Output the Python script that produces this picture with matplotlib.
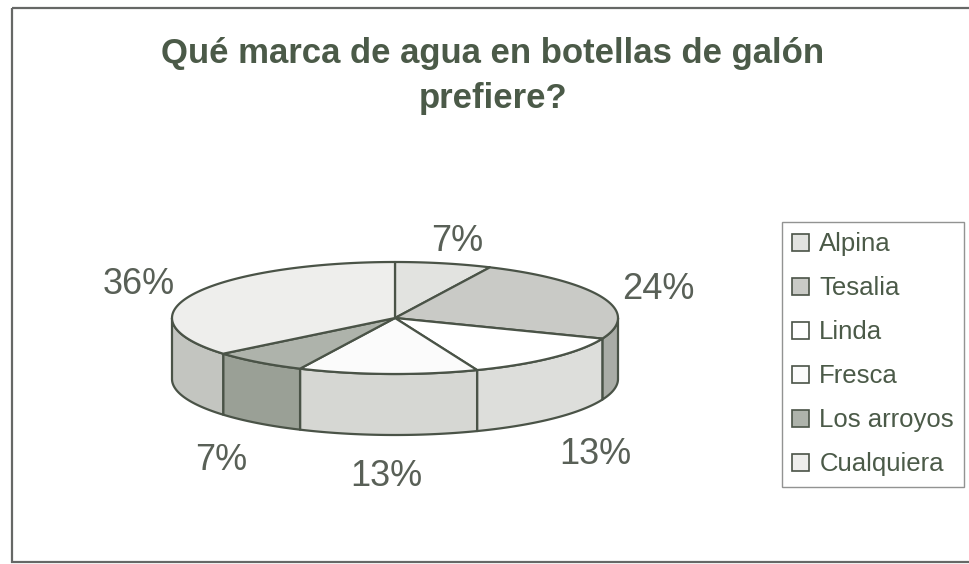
import numpy as np
import matplotlib
matplotlib.use("Agg")
import matplotlib.pyplot as plt
from matplotlib.patches import Polygon, Rectangle

# ---- data ----
title = "Qué marca de agua en botellas de galón\nprefiere?"
brands = ["Alpina", "Tesalia", "Linda", "Fresca", "Los arroyos", "Cualquiera"]
shares = [7, 24, 13, 13, 7, 36]
labels = ["7%", "24%", "13%", "13%", "7%", "36%"]
top_colors = ["#e2e3e0", "#c9cac6", "#ffffff", "#fbfbfb", "#aeb3ab", "#eeeeec"]
side_colors = ["#c8c9c5", "#a9aca6", "#dddedb", "#d6d7d3", "#9aa096", "#c3c5c0"]
edge = "#4a5347"
txt = "#4b5a48"

W, H = 969, 564
fig = plt.figure(figsize=(W / 100, H / 100), dpi=100)
fig.patch.set_facecolor("white")
ax = fig.add_axes([0, 0, 1, 1])
ax.set_xlim(0, W)
ax.set_ylim(H, 0)
ax.axis("off")

# outer frame
ax.add_patch(Rectangle((12, 8), W + 20, 554, fill=False, ec="#666866", lw=1.6))

# pie geometry (pixel space)
cx, cy, rx, ry, depth = 395, 318, 223, 56, 61

def pt(theta, dy=0.0):
    return cx + rx * np.cos(theta), cy - ry * np.sin(theta) + dy

fr = np.array(shares, float) / sum(shares)
cum = np.concatenate([[0], np.cumsum(fr)])
# clockwise from 12 o'clock
starts = np.pi / 2 - 2 * np.pi * cum[:-1]
ends = np.pi / 2 - 2 * np.pi * cum[1:]

# sides (front half)
for i in range(len(shares)):
    a, b = ends[i], starts[i]
    for shift in (-2 * np.pi, 0, 2 * np.pi):
        lo = max(a + shift, -np.pi)
        hi = min(b + shift, 0)
        if hi > lo:
            t = np.linspace(lo, hi, 80)
            xs, ys = pt(t)
            xb, yb = pt(t[::-1], depth)
            poly = np.column_stack([np.concatenate([xs, xb]), np.concatenate([ys, yb])])
            ax.add_patch(Polygon(poly, closed=True, fc=side_colors[i], ec=edge, lw=1.6, joinstyle="round"))

# top faces
handles = []
for i in range(len(shares)):
    t = np.linspace(starts[i], ends[i], 120)
    xs, ys = pt(t)
    poly = np.column_stack([np.concatenate([[cx], xs]), np.concatenate([[cy], ys])])
    p = Polygon(poly, closed=True, fc=top_colors[i], ec=edge, lw=1.6, joinstyle="round", label=brands[i])
    ax.add_patch(p)
    handles.append(p)

# labels
lab_font = dict(family="Liberation Sans", size=26, color="#596057")
for i in range(len(shares)):
    m = (starts[i] + ends[i]) / 2
    x = cx + 1.27 * rx * np.cos(m)
    y = cy - (ry + 22) * np.sin(m) + (depth + 20 if np.sin(m) < 0 else 0)
    ax.text(x, y, labels[i], ha="center", va="center", **lab_font)

# title
ax.text(493, 76, title, ha="center", va="center", family="Liberation Sans",
        fontweight="bold", size=25, color=txt, linespacing=1.45)

# legend
leg = fig.legend(handles=handles, loc="upper left", bbox_to_anchor=(782 / W, 1 - 222 / H),
                 frameon=True, fancybox=False, edgecolor="#777877",
                 prop=dict(family="Liberation Sans", size=18.5),
                 handlelength=0.65, handleheight=0.65, handletextpad=0.4,
                 labelspacing=0.78, borderpad=0.4, borderaxespad=0)
for t in leg.get_texts():
    t.set_color(txt)
for h in leg.legend_handles:
    h.set_linewidth(1.2)
leg.get_frame().set_linewidth(1.0)

fig.savefig("out.png", dpi=100)
